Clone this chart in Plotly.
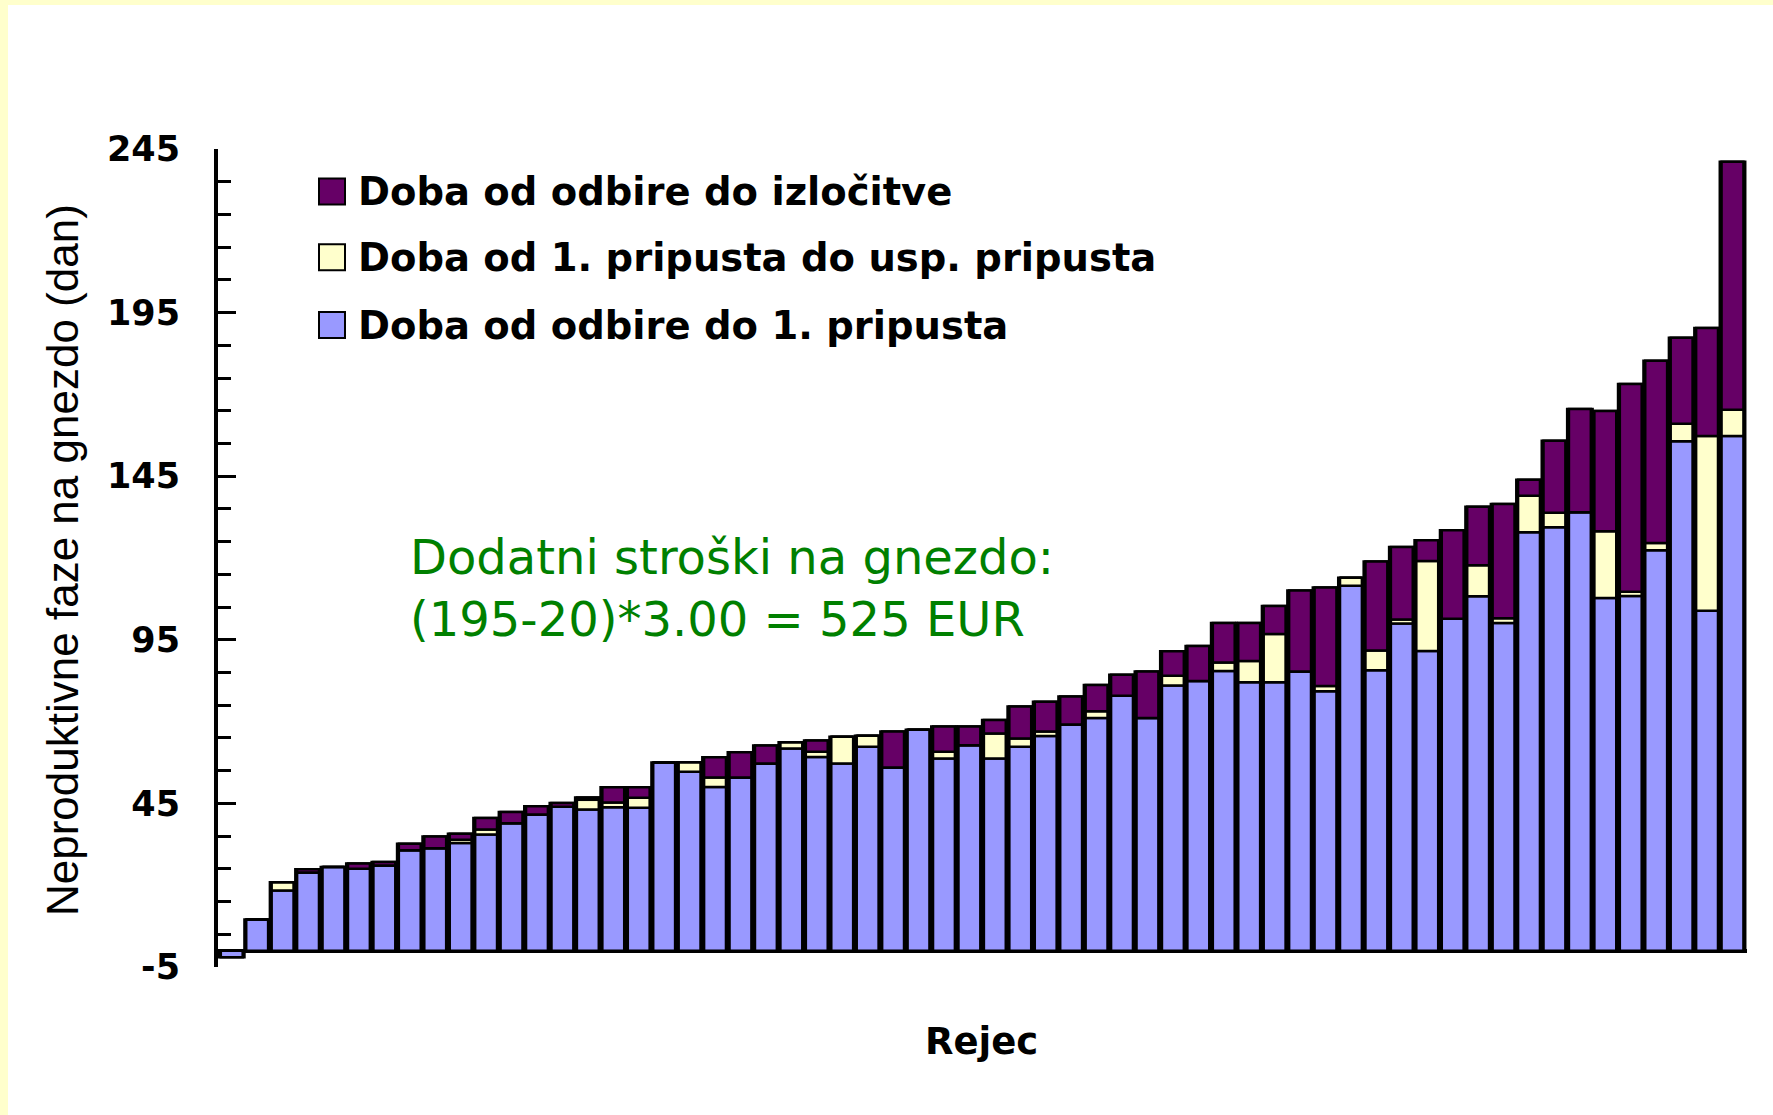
import plotly.graph_objects as go

# ---------------- data ----------------
rejec = list(range(1, 61))  # sows, sorted by total non-productive days

odbira_do_1_pripusta = [
    -2.0, 9.5, 18.4, 23.9, 25.6, 25.0, 26.0, 30.7, 31.3, 32.9,
    35.5, 38.9, 41.6, 44.0, 43.1, 43.8, 43.7, 57.5, 54.7, 50.0,
    52.9, 57.2, 61.8, 59.2, 57.2, 62.3, 56.0, 67.5, 58.7, 62.8,
    58.7, 62.3, 65.6, 69.1, 71.1, 77.9, 71.1, 81.0, 82.4, 85.5,
    82.0, 82.0, 85.3, 79.3, 111.5, 85.7, 100.0, 91.6, 101.4, 108.3,
    100.1, 127.9, 129.4, 134.0, 107.8, 108.4, 122.4, 155.7, 103.9, 157.3,
]
pripust_do_usp = [
    0.0, 0.0, 2.5, 0.0, 0.0, 0.0, 0.0, 0.0, 0.0, 1.0,
    1.5, 0.0, 0.0, 0.0, 3.0, 1.5, 3.0, 0.0, 2.9, 2.9,
    0.0, 0.0, 1.9, 1.6, 8.2, 3.4, 0.0, 0.0, 2.1, 0.0,
    7.7, 2.5, 1.4, 0.0, 2.1, 0.0, 0.0, 3.0, 0.0, 2.6,
    6.5, 14.8, 0.0, 1.6, 2.5, 6.0, 1.2, 27.5, 0.0, 9.5,
    1.5, 11.1, 4.4, 0.0, 20.4, 1.3, 2.2, 5.3, 53.4, 8.0,
]
odbira_do_izlocitve = [
    0.0, 0.0, 0.0, 1.0, 0.0, 1.6, 1.1, 2.0, 3.6, 1.8,
    3.5, 3.5, 2.5, 1.1, 0.7, 4.6, 3.2, 0.0, 0.0, 6.2,
    7.7, 5.5, 0.0, 3.4, 0.0, 0.0, 11.0, 0.0, 7.7, 5.7,
    4.1, 9.8, 9.1, 8.6, 8.0, 6.4, 14.2, 7.5, 10.7, 12.0,
    11.6, 8.5, 24.8, 30.1, 0.0, 27.2, 22.2, 6.3, 27.1, 17.9,
    34.9, 4.9, 22.0, 31.5, 36.7, 63.5, 55.7, 26.3, 33.0, 75.8,
]

series_names = [
    "Doba od odbire do 1. pripusta",
    "Doba od 1. pripusta do usp. pripusta",
    "Doba od odbire do izločitve",
]
series_colors = ["#9999FF", "#FFFFCC", "#660066"]
series_values = [odbira_do_1_pripusta, pripust_do_usp, odbira_do_izlocitve]

y_tick_values = [-5, 45, 95, 145, 195, 245]
y_tick_labels = ["-5", "45", "95", "145", "195", "245"]
y_title = "Neproduktivne faze na gnezdo (dan)"
x_title = "Rejec"
note_text = "Dodatni stroški na gnezdo:<br>(195-20)*3.00 = 525 EUR"

# ---------------- layout geometry (pixels) ----------------
W, H = 1773, 1115
ML, MR, MT, MB = 218, 26, 149, 148
PW, PH = W - ML - MR, H - MT - MB


def px_x(px):
    return (px - ML) / PW


def px_y(py):
    return (H - MB - py) / PH


# stacking bases (bars drawn in overlay mode on top of a black backing)
bases = []
running = [0.0] * len(rejec)
for vals in series_values:
    bases.append(list(running))
    running = [r + v if v >= 0 else r for r, v in zip(running, vals)]
totals = [r if r > 0 else v for r, v in zip(running, odbira_do_1_pripusta)]

fig = go.Figure()
# black backing: full-width columns giving the thick black separations
fig.add_trace(go.Bar(
    x=rejec, y=totals, width=1.0, showlegend=False, hoverinfo="skip",
    marker=dict(color="black", line=dict(color="black", width=2.5)),
))
for name, color, vals, base in zip(series_names, series_colors, series_values, bases):
    fig.add_trace(go.Bar(
        x=rejec, y=vals, base=base, name=name, width=0.86,
        marker=dict(color=color, line=dict(color="black", width=2.5)),
        showlegend=False,
    ))

bold = dict(family="DejaVu Sans", color="black", weight="bold")

fig.update_layout(
    width=W, height=H,
    margin=dict(l=ML, r=MR, t=MT, b=MB, pad=0),
    paper_bgcolor="white", plot_bgcolor="white",
    barmode="overlay",
    xaxis=dict(range=[0.46, 60.57], showticklabels=False, ticks="",
               showgrid=False, zeroline=False, showline=False),
    yaxis=dict(range=[-5, 245], tickmode="array", tickvals=y_tick_values,
               ticktext=y_tick_labels,
               ticks="inside", ticklen=18, tickwidth=3, tickcolor="black",
               showline=True, linewidth=4, linecolor="black",
               showgrid=False, zeroline=True, zerolinecolor="black", zerolinewidth=4,
               tickfont=dict(size=35, **bold), ticklabelstandoff=27,
               minor=dict(tick0=-5, dtick=10, ticks="inside", ticklen=13,
                          tickwidth=3, tickcolor="black", showgrid=False)),
)

shapes = [
    # yellow page border strips
    dict(type="rect", xref="paper", yref="paper", x0=px_x(0), x1=px_x(8),
         y0=px_y(H), y1=px_y(0), fillcolor="#FFFFCC", line=dict(width=0), layer="below"),
    dict(type="rect", xref="paper", yref="paper", x0=px_x(0), x1=px_x(W),
         y0=px_y(5), y1=px_y(0), fillcolor="#FFFFCC", line=dict(width=0), layer="below"),
]
annotations = []

# manual legend (large square swatches), top to bottom: reversed series order
legend_rows_y = [191.6, 257.2, 325.1]
for row_y, name, color in zip(legend_rows_y, series_names[::-1], series_colors[::-1]):
    shapes.append(dict(type="rect", xref="paper", yref="paper",
                       x0=px_x(319), x1=px_x(345), y0=px_y(row_y + 13), y1=px_y(row_y - 13),
                       fillcolor=color, line=dict(color="black", width=2)))
    annotations.append(dict(xref="paper", yref="paper", x=px_x(356), y=px_y(row_y),
                            xanchor="left", yanchor="middle", showarrow=False,
                            text=name, font=dict(size=38.5, **bold)))

annotations += [
    dict(xref="paper", yref="paper", x=px_x(408), y=px_y(588),
         xanchor="left", yanchor="middle", align="left", showarrow=False,
         text=note_text, font=dict(family="DejaVu Sans", size=48, color="#008000")),
    dict(xref="paper", yref="paper", x=px_x(981), y=px_y(1041),
         xanchor="center", yanchor="middle", showarrow=False,
         text=x_title, font=dict(size=37, **bold)),
    dict(xref="paper", yref="paper", x=px_x(62), y=px_y(560),
         xanchor="center", yanchor="middle", showarrow=False, textangle=-90,
         text=y_title, font=dict(family="Liberation Sans", size=44, color="black")),
]
fig.update_layout(shapes=shapes, annotations=annotations)

fig.write_html("out.html", config={"displayModeBar": False},
               post_script="document.body.style.margin='0px';")
